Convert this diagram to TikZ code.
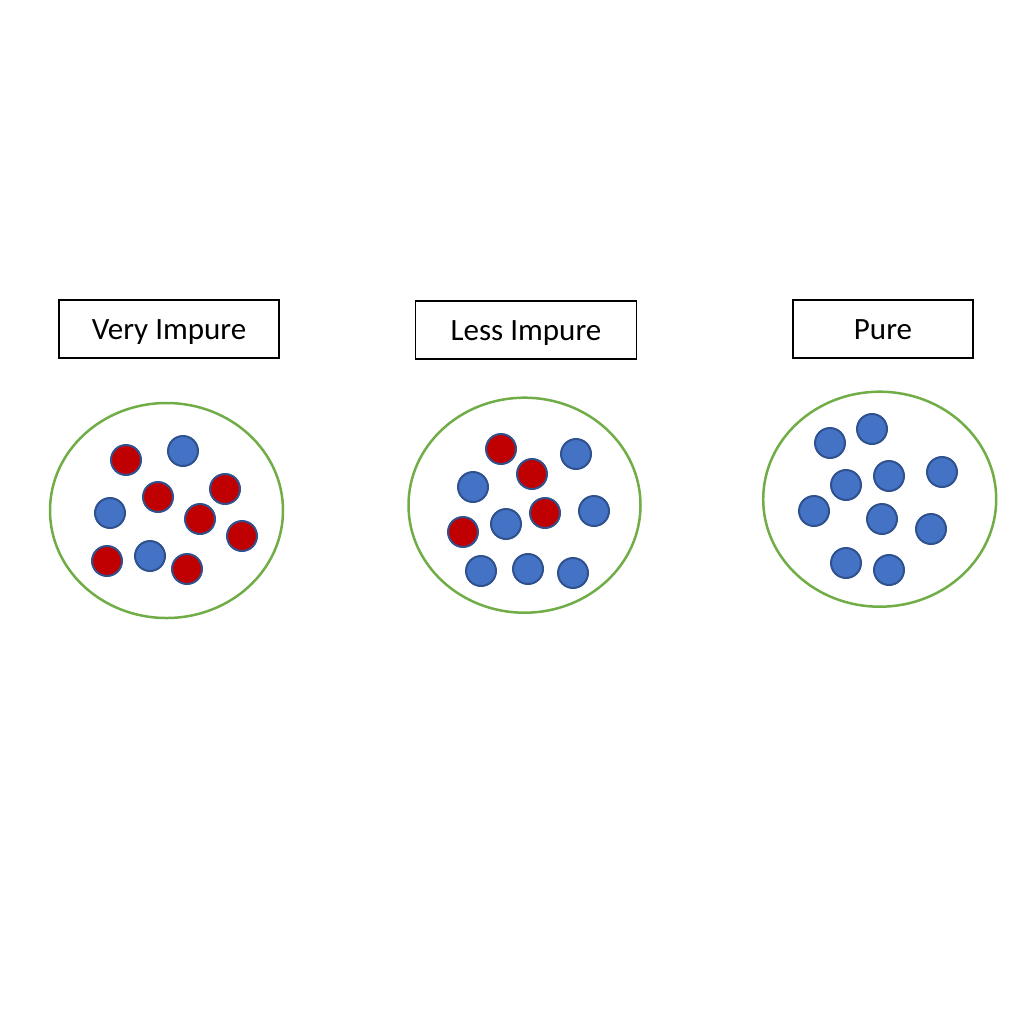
\documentclass[tikz,border=0pt]{standalone}
\usepackage{fontspec}
\setmainfont{Carlito}
\usetikzlibrary{shapes.geometric}
\definecolor{dotblue}{HTML}{4472C4}
\definecolor{dotred}{HTML}{C00000}
\definecolor{dotedge}{HTML}{2F528F}
\definecolor{poolgreen}{HTML}{70AD47}
\tikzstyle{label}=[draw=black, line width=1.5pt, minimum width=220pt, minimum height=58pt, inner sep=0pt, text height=20pt, text depth=0pt, font=\fontsize{31}{37}\selectfont]
\tikzstyle{pool}=[ellipse, draw=poolgreen, line width=2.5pt, minimum width=233pt, minimum height=215pt, inner sep=0pt]
\tikzstyle{pur}=[circle, fill=dotblue, draw=dotedge, line width=2pt, minimum size=30pt, inner sep=0pt]
\tikzstyle{imp}=[circle, fill=dotred, draw=dotedge, line width=2pt, minimum size=30pt, inner sep=0pt]

\begin{document}
\begin{tikzpicture}[x=1pt, y=-1pt]
				\useasboundingbox (0,0) rectangle (1024,1023);

				% Labels
				\node[label] (very) at (169, 329) {Very Impure};
				\node[label, minimum width=221pt] (less) at (526, 330) {Less Impure};
				\node[label, minimum width=180pt] (pure) at (883, 329) {Pure};

				% Pools
				\node[pool] (pool1) at (166.5, 510.5) {};
				\node[pool, minimum width=232pt] (pool2) at (524.5, 505.2) {};
				\node[pool, minimum width=233pt] (pool3) at (879.7, 499.2) {};

				% Very impure
				\foreach \x/\y [count=\i] in {126/460, 158/497, 225/489, 200/519, 242/536, 107/561, 187/569}{ \node[imp] (vi\i) at (\x,\y) {}; }
				\foreach \x/\y [count=\i] in {183/451, 110/513, 150/556}{ \node[pur] (vp\i) at (\x,\y) {}; }

				% Less impure
				\foreach \x/\y [count=\i] in {501/449, 532/474, 545/513, 463/532}{ \node[imp] (li\i) at (\x,\y) {}; }
				\foreach \x/\y [count=\i] in {576/454, 473/487, 594/511, 506/524, 481/571, 528/569, 573/573}{ \node[pur] (lp\i) at (\x,\y) {}; }

				% Pure
				\foreach \x/\y [count=\i] in {830/443, 872/429, 846/485, 889/476, 942/472, 814/511, 882/519, 931/529, 846/563, 889/570}{ \node[pur] (pp\i) at (\x,\y) {}; }
			\end{tikzpicture}
\end{document}
